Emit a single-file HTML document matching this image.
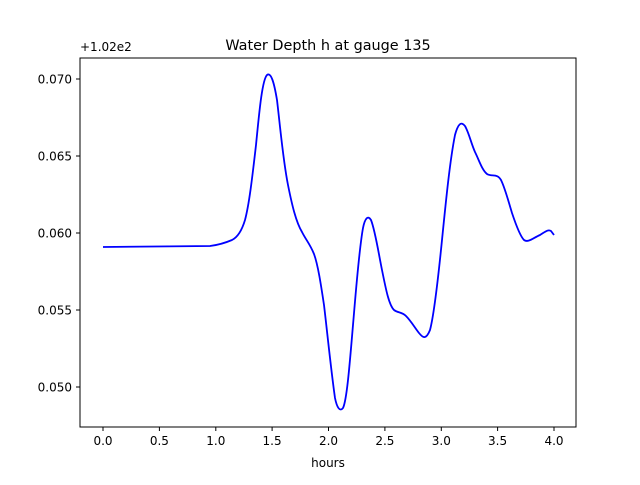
<!DOCTYPE html>
<html><head><style>body{margin:0;background:#fff}</style></head><body>
<svg width="640" height="480" xmlns="http://www.w3.org/2000/svg" font-family="DejaVu Sans, Liberation Sans, sans-serif">
<rect width="640" height="480" fill="#fff"/>
<text x="328" y="50" font-size="14.4" text-anchor="middle" fill="#000">Water Depth h at gauge 135</text>
<text x="80" y="51" font-size="12" fill="#000">+1.02e2</text>
<path fill="none" stroke="#0000ff" stroke-width="1.8" stroke-linejoin="round" d="M103,247 L210,246 C218,245 225,243 232,240 C238,237 242,230 245,220 C249,205 252,180 256,145 C259,115 262,80 267,75 C271,72 274,82 277,100 C280,125 283,160 288,185 C292,205 296,222 302,232 C306,240 310,244 314,254 C318,265 321,285 324,305 C327,330 331,370 335,398 C337,408 340,412 343,408 C347,400 350,360 353,325 C356,290 359,250 363,228 C365,218 368,215 371,220 C375,230 378,250 382,270 C386,290 389,305 394,310 C398,313 402,312 406,316 C411,321 415,328 419,333 C423,338 426,340 430,330 C434,315 438,280 442,240 C446,200 450,160 455,135 C458,124 461,121 465,126 C469,133 471,143 475,152 C479,160 482,170 487,174 C492,177 497,173 501,180 C505,188 508,200 512,213 C516,225 520,236 524,240 C528,243 533,238 540,235 C545,232 548,229 551,231 L554,235"/>
<rect x="80" y="58" width="496" height="369" fill="none" stroke="#000" stroke-width="1"/>
<g stroke="#000" stroke-width="1">
<line x1="103" y1="427" x2="103" y2="431"/><line x1="159.4" y1="427" x2="159.4" y2="431"/><line x1="215.8" y1="427" x2="215.8" y2="431"/><line x1="272.1" y1="427" x2="272.1" y2="431"/><line x1="328.5" y1="427" x2="328.5" y2="431"/><line x1="384.9" y1="427" x2="384.9" y2="431"/><line x1="441.3" y1="427" x2="441.3" y2="431"/><line x1="497.6" y1="427" x2="497.6" y2="431"/><line x1="554" y1="427" x2="554" y2="431"/>
<line x1="76" y1="79" x2="80" y2="79"/><line x1="76" y1="156" x2="80" y2="156"/><line x1="76" y1="233" x2="80" y2="233"/><line x1="76" y1="310" x2="80" y2="310"/><line x1="76" y1="387" x2="80" y2="387"/>
</g>
<g font-size="12" fill="#000" text-anchor="middle">
<text x="103" y="445">0.0</text><text x="159.4" y="445">0.5</text><text x="215.8" y="445">1.0</text><text x="272.1" y="445">1.5</text><text x="328.5" y="445">2.0</text><text x="384.9" y="445">2.5</text><text x="441.3" y="445">3.0</text><text x="497.6" y="445">3.5</text><text x="554" y="445">4.0</text>
<text x="328" y="467">hours</text>
</g>
<g font-size="12" fill="#000" text-anchor="end">
<text x="72" y="83.5">0.070</text><text x="72" y="160.5">0.065</text><text x="72" y="237.5">0.060</text><text x="72" y="314.5">0.055</text><text x="72" y="391.5">0.050</text>
</g>
</svg>
</body></html>
